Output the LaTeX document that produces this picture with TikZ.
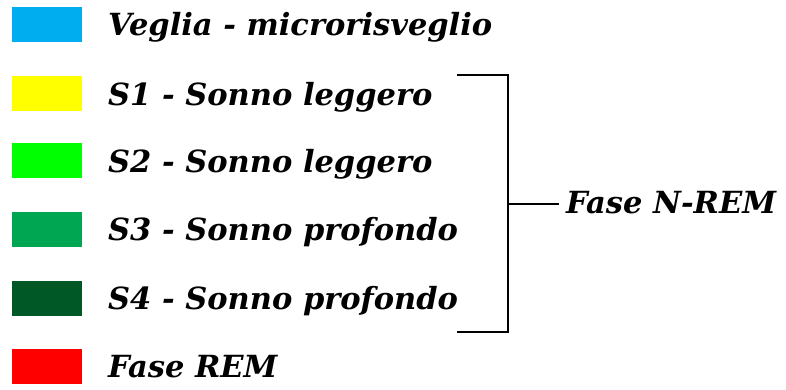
\documentclass[tikz,border=0pt]{standalone}
\usepackage{fontspec}
\setmainfont{DejaVu Serif}
\begin{document}
\begin{tikzpicture}[x=1pt,y=-1pt,
  swatch/.style={minimum width=70pt,minimum height=35pt,inner sep=0pt,anchor=center},
  lbl/.style={anchor=base west,inner sep=0pt,font=\fontsize{30.5}{36}\selectfont\bfseries\itshape},
  brk/.style={line width=2pt}]
\useasboundingbox (0,0) rectangle (786,389);
\definecolor{cVeglia}{HTML}{00AEEF}
\definecolor{cSa}{HTML}{FFFF00}
\definecolor{cSb}{HTML}{00FF00}
\definecolor{cSc}{HTML}{00A651}
\definecolor{cSd}{HTML}{005826}
\definecolor{cRem}{HTML}{FF0000}
\node[swatch,fill=cVeglia] (s0) at (47,24.5) {};
\node[swatch,fill=cSa] (s1) at (47,93) {};
\node[swatch,fill=cSb] (s2) at (47,160.5) {};
\node[swatch,fill=cSc] (s3) at (47,229.5) {};
\node[swatch,fill=cSd] (s4) at (47,298) {};
\node[swatch,fill=cRem] (s5) at (47,366) {};
\node[lbl] (t0) at (108,35) {Veglia - microrisveglio};
\node[lbl] (t1) at (108,105) {S1 - Sonno leggero};
\node[lbl] (t2) at (108,172.5) {S2 - Sonno leggero};
\node[lbl] (t3) at (108,240) {S3 - Sonno profondo};
\node[lbl] (t4) at (108,309) {S4 - Sonno profondo};
\node[lbl] (t5) at (108,377) {Fase REM};
\coordinate (bt) at (457,75);
\coordinate (bb) at (457,332);
\coordinate (bm) at (508,204);
\draw[brk] (bt) -| (508,332) -- (bb);
\node[lbl] (nrem) at (566,213) {Fase N-REM};
\draw[brk] (bm) -- ([xshift=-7pt]nrem.west |- bm);
\end{tikzpicture}
\end{document}
